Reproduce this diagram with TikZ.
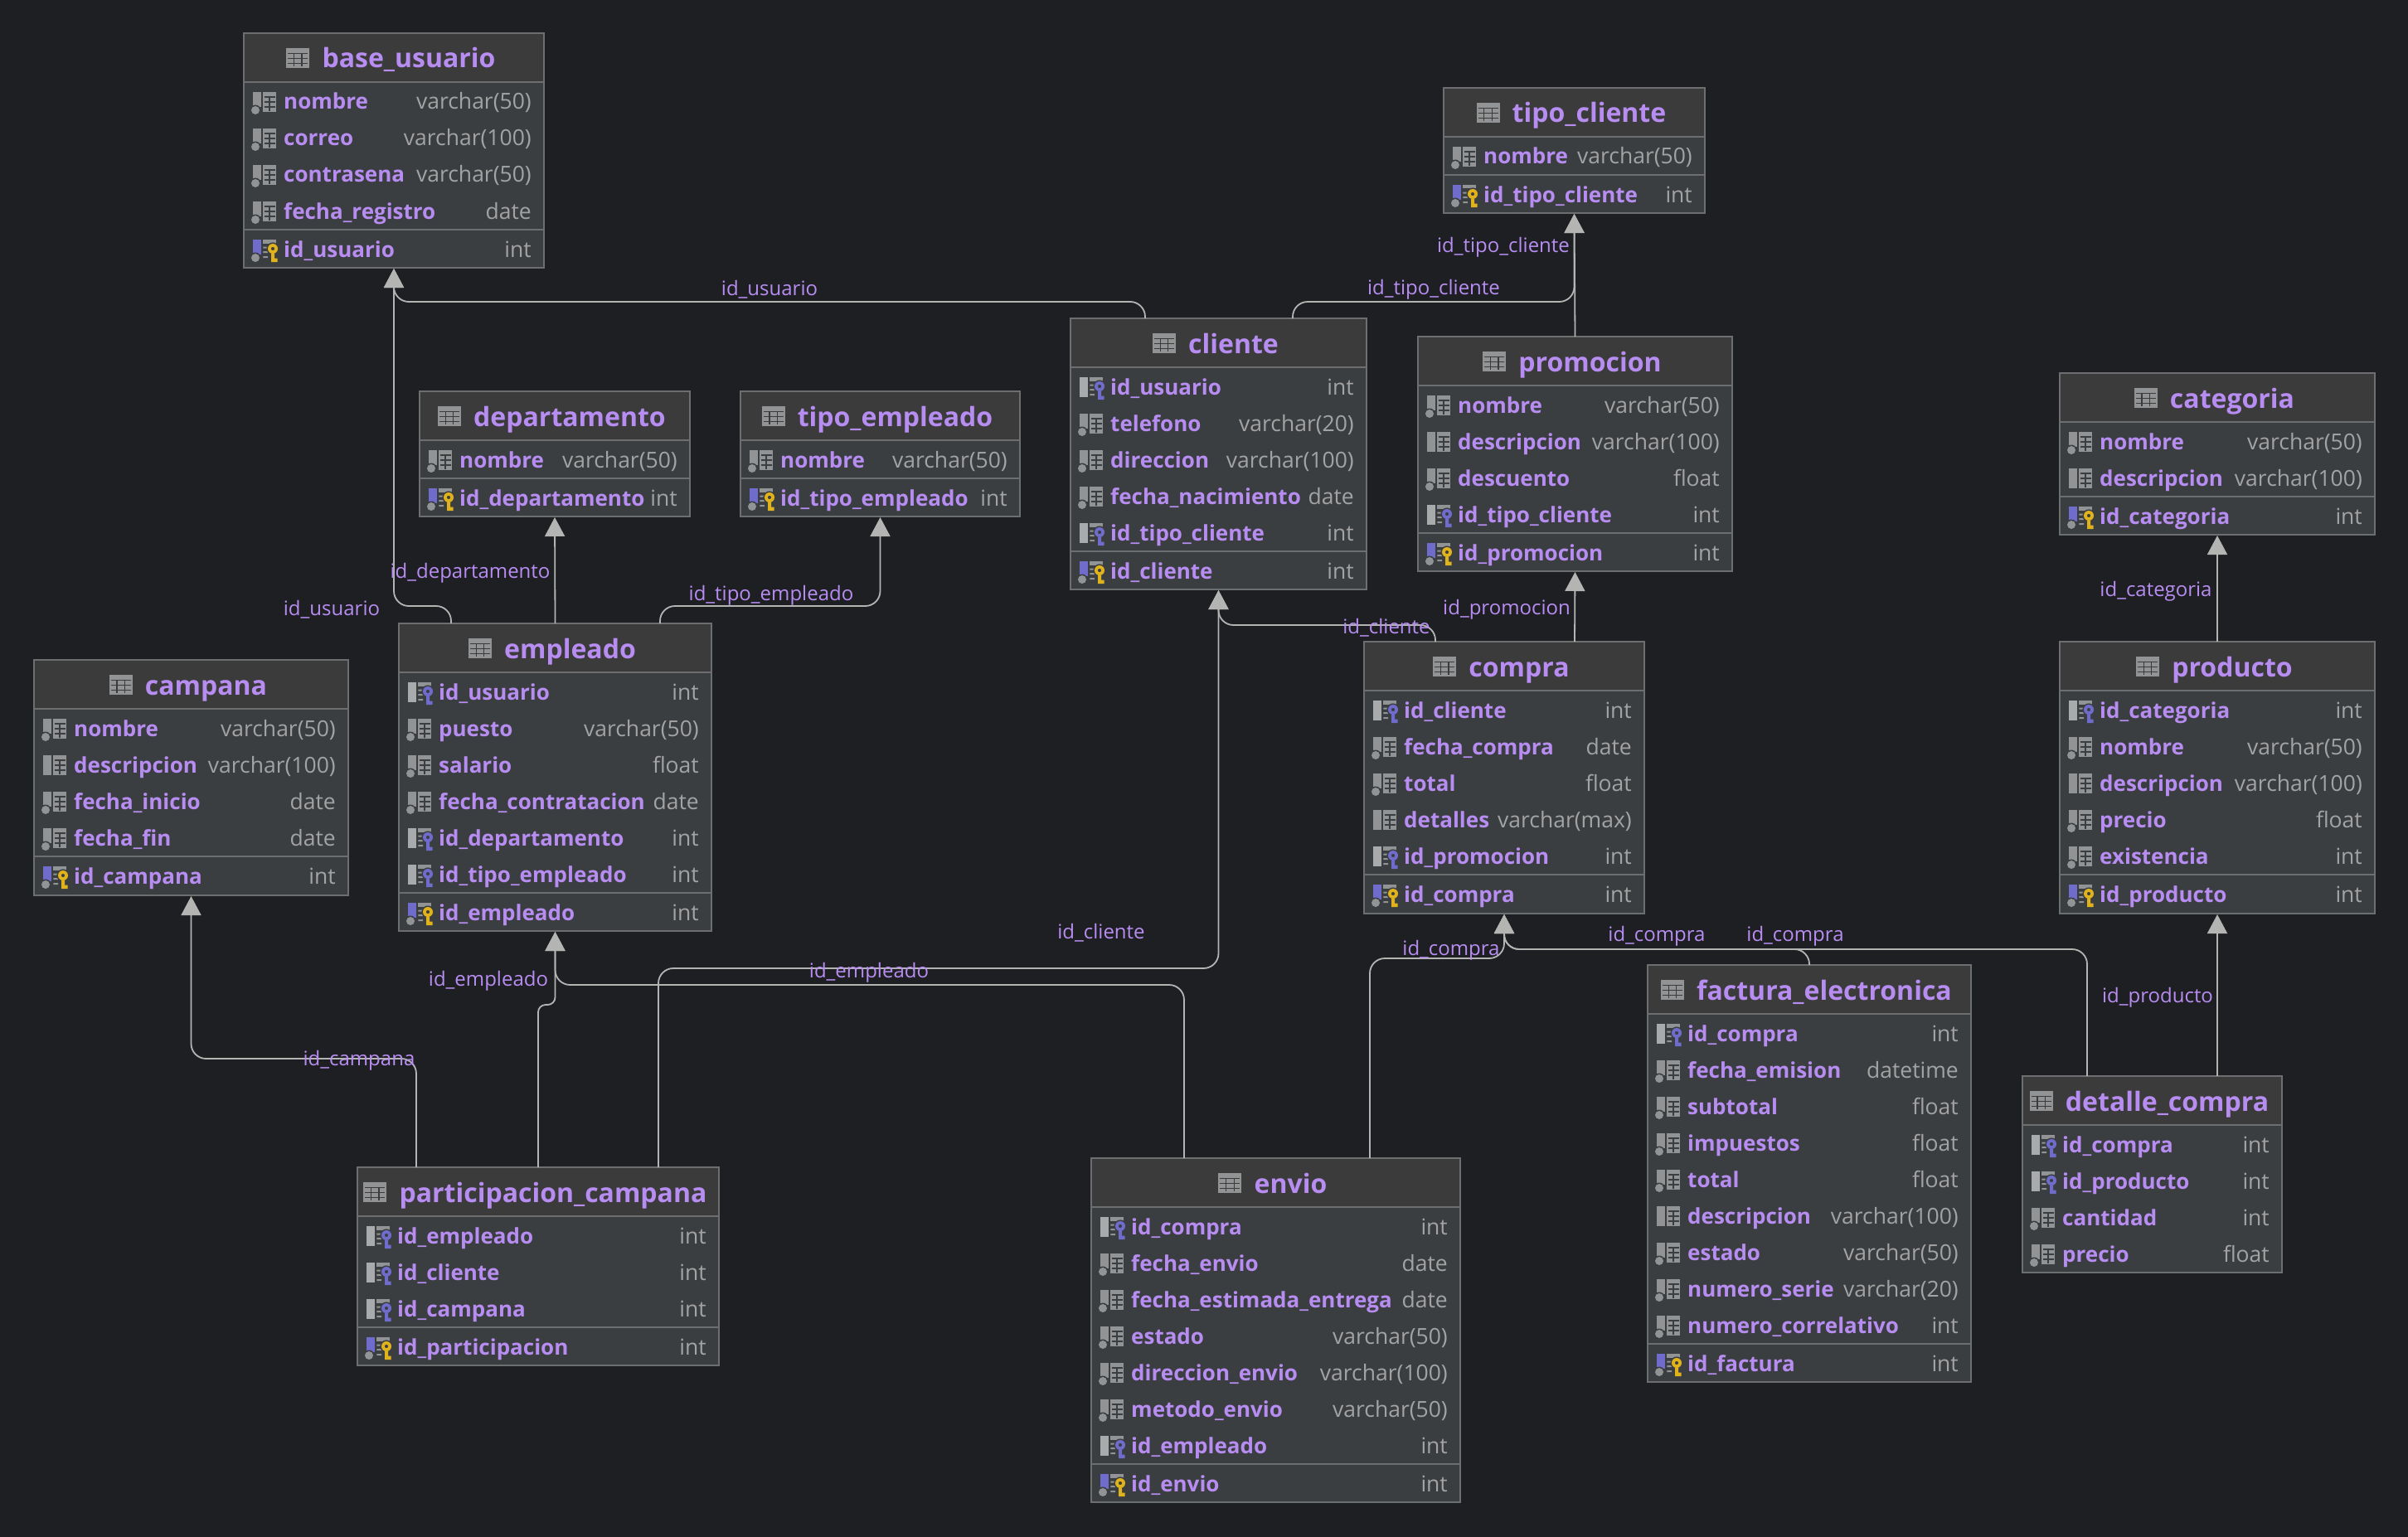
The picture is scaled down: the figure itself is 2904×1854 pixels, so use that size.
\documentclass[tikz,border=0pt]{standalone}
\usepackage{fontspec}
\usetikzlibrary{arrows.meta}
\setmainfont{Open Sans}
\definecolor{bgdark}{HTML}{1E1F22}
\definecolor{headfill}{HTML}{3B3B3B}
\definecolor{bodyfill}{HTML}{3B3E41}
\definecolor{frameline}{HTML}{6D6E6F}
\definecolor{namepurple}{HTML}{B88DF2}
\definecolor{typegrey}{HTML}{A3A3A3}
\definecolor{linkgrey}{HTML}{B4B5B3}
\definecolor{icongrey}{HTML}{929394}
\definecolor{fkgrey}{HTML}{A9AAAB}
\definecolor{keyblue}{HTML}{6F6CCB}
\definecolor{keygold}{HTML}{E0B31C}

\tikzset{
  dbframe/.style={draw=frameline, line width=2pt, fill=bodyfill, anchor=north west, inner sep=0pt, outer sep=0pt},
  tbltitle/.style={anchor=base, inner sep=0pt, text=namepurple, font=\fontsize{32}{36}\selectfont\bfseries},
  colname/.style={anchor=base west, inner sep=0pt, text=namepurple, font=\fontsize{26}{30}\selectfont\bfseries},
  coltype/.style={anchor=base east, inner sep=0pt, text=typegrey, font=\fontsize{26.5}{30}\selectfont},
  fklabel/.style={inner sep=0pt, yshift=-3pt, text=namepurple, font=\fontsize{24}{28}\selectfont},
  fklink/.style={draw=linkgrey, line width=1.8pt, rounded corners=18pt, shorten >=1pt, -{Triangle[length=23pt,width=24pt]}},
  pics/gridbase/.style={code={
    \fill[icongrey] (12.3,-12) rectangle (28,12);
    \draw[bodyfill, line width=1.2pt] (13.5,-6) -- (27,-6) (13.5,0) -- (27,0) (13.5,6) -- (27,6) (20,-6) -- (20,10.8);
  }},
  pics/gridkeyed/.style={code={
    \fill[icongrey] (12.3,-12) rectangle (28,-7.5);
    \fill[icongrey] (12.3,-3.5) rectangle (18,-1.5) (12.3,2) rectangle (18,4) (12.3,8) rectangle (18,10);
  }},
  pics/keyshape/.style={code={
    \fill[bodyfill] (24,-1) circle (7.6);
    \fill[#1, even odd rule] (24,-1) circle (6) (24,-1) circle (2.2);
    \fill[#1] (22,4.5) rectangle (26,15) (26,10.5) rectangle (29.5,15);
  }},
  pics/colnull/.style={code={
    \fill[icongrey] (0,-12) rectangle (10,6);
    \fill[bodyfill] (3,10) circle (6.5);
    \fill[icongrey] (3,10) circle (5);
    \pic {gridbase};
  }},
  pics/colreq/.style={code={
    \fill[icongrey] (0,-12) rectangle (10,12);
    \pic {gridbase};
  }},
  pics/colfk/.style={code={
    \fill[fkgrey] (0,-12) rectangle (10,12);
    \pic {gridkeyed};
    \pic {keyshape=keyblue};
  }},
  pics/colpk/.style={code={
    \fill[keyblue] (0,-12) rectangle (10,6);
    \fill[bodyfill] (3,10) circle (6.5);
    \fill[icongrey] (3,10) circle (5);
    \pic {gridkeyed};
    \pic {keyshape=keygold};
  }},
  pics/tableicon/.style={code={
    \fill[icongrey] (-43,-24) rectangle (-15,0);
    \draw[headfill, line width=1.3pt] (-41,-17.5) -- (-17,-17.5) (-41,-11.5) -- (-17,-11.5) (-41,-5.5) -- (-17,-5.5)
      (-33.7,-17.5) -- (-33.7,-2) (-24.3,-17.5) -- (-24.3,-2);
  }}
}

% name, left, top, width, height, rows
\newcommand{\dbtable}[6]{
  \node[dbframe, minimum width=#4, minimum height=#5] (#1) at (#2,#3) {};
  \fill[headfill] ([shift={(1pt,-1pt)}]#1.north west) rectangle ([shift={(-1pt,-59pt)}]#1.north east);
  \draw[frameline, line width=2pt] ([yshift=-59pt]#1.north west) -- ([yshift=-59pt]#1.north east);
  \node[tbltitle] (#1-title) at (#2+#4/2+18,#3+42) {\tblname{#1}};
  \pic at (#1-title.base west) {tableicon};
  \foreach \kind/\cname/\ctype [count=\i from 0] in {#6} {
    \ifnum\pdfstrcmp{\kind}{colpk}=0
      \draw[frameline, line width=2pt] (#2,#3+61+44*\i) -- (#2+#4,#3+61+44*\i);
      \def\rowy{#3+85+44*\i}
    \else
      \def\rowy{#3+83+44*\i}
    \fi
    \pic at (#2+11,\rowy) {\kind};
    \node[colname] (#1-c\i) at (#2+48,\rowy+9) {\cname};
    \node[coltype] (#1-t\i) at (#2+#4-15,\rowy+9) {\ctype};
  }
}
\newcommand{\tblname}[1]{\detokenize{#1}}

\begin{document}
\begin{tikzpicture}[x=1pt,y=-1pt]
\fill[bgdark] (0,0) rectangle (2904,1854);

\dbtable{base_usuario}{294}{40}{362}{283}{colnull/nombre/varchar(50), colnull/correo/varchar(100), colnull/contrasena/varchar(50), colnull/fecha\_registro/date, colpk/id\_usuario/int}
\dbtable{tipo_cliente}{1741}{106}{315}{151}{colnull/nombre/varchar(50), colpk/id\_tipo\_cliente/int}
\dbtable{departamento}{506}{472}{326}{151}{colnull/nombre/varchar(50), colpk/id\_departamento/int}
\dbtable{tipo_empleado}{893}{472}{337}{151}{colnull/nombre/varchar(50), colpk/id\_tipo\_empleado/int}
\dbtable{cliente}{1291}{384}{357}{327}{colfk/id\_usuario/int, colnull/telefono/varchar(20), colnull/direccion/varchar(100), colnull/fecha\_nacimiento/date, colfk/id\_tipo\_cliente/int, colpk/id\_cliente/int}
\dbtable{promocion}{1710}{406}{379}{283}{colnull/nombre/varchar(50), colreq/descripcion/varchar(100), colnull/descuento/float, colfk/id\_tipo\_cliente/int, colpk/id\_promocion/int}
\dbtable{categoria}{2484}{450}{380}{195}{colnull/nombre/varchar(50), colreq/descripcion/varchar(100), colpk/id\_categoria/int}
\dbtable{producto}{2484}{774}{380}{328}{colfk/id\_categoria/int, colnull/nombre/varchar(50), colreq/descripcion/varchar(100), colnull/precio/float, colnull/existencia/int, colpk/id\_producto/int}
\dbtable{compra}{1645}{774}{338}{328}{colfk/id\_cliente/int, colnull/fecha\_compra/date, colnull/total/float, colreq/detalles/varchar(max), colfk/id\_promocion/int, colpk/id\_compra/int}
\dbtable{empleado}{481}{752}{377}{371}{colfk/id\_usuario/int, colnull/puesto/varchar(50), colnull/salario/float, colnull/fecha\_contratacion/date, colfk/id\_departamento/int, colfk/id\_tipo\_empleado/int, colpk/id\_empleado/int}
\dbtable{campana}{41}{796}{379}{284}{colnull/nombre/varchar(50), colreq/descripcion/varchar(100), colnull/fecha\_inicio/date, colnull/fecha\_fin/date, colpk/id\_campana/int}
\dbtable{participacion_campana}{431}{1408}{436}{239}{colfk/id\_empleado/int, colfk/id\_cliente/int, colfk/id\_campana/int, colpk/id\_participacion/int}
\dbtable{envio}{1316}{1397}{445}{415}{colfk/id\_compra/int, colnull/fecha\_envio/date, colnull/fecha\_estimada\_entrega/date, colnull/estado/varchar(50), colnull/direccion\_envio/varchar(100), colnull/metodo\_envio/varchar(50), colfk/id\_empleado/int, colpk/id\_envio/int}
\dbtable{factura_electronica}{1987}{1164}{390}{503}{colfk/id\_compra/int, colnull/fecha\_emision/datetime, colnull/subtotal/float, colnull/impuestos/float, colnull/total/float, colreq/descripcion/varchar(100), colnull/estado/varchar(50), colnull/numero\_serie/varchar(20), colnull/numero\_correlativo/int, colpk/id\_factura/int}
\dbtable{detalle_compra}{2439}{1298}{313}{237}{colfk/id\_compra/int, colfk/id\_producto/int, colnull/cantidad/int, colnull/precio/float}

\draw[fklink] ([xshift=-88.5pt]cliente.north) -- ++(0,-20) -| (base_usuario.south);
\draw[fklink] ([xshift=-125.5pt]empleado.north) -- ++(0,-21) -| (base_usuario.south);
\draw[fklink] (empleado.north) -- (departamento.south);
\draw[fklink] ([xshift=126.5pt]empleado.north) -- ++(0,-21) -| (tipo_empleado.south);
\draw[fklink] ([xshift=89.5pt]cliente.north) -- ++(0,-20) -| (tipo_cliente.south);
\draw[fklink] (promocion.north) -- (tipo_cliente.south);
\draw[fklink] ([xshift=-83pt]compra.north) -- ++(0,-20) -| (cliente.south);
\draw[fklink] ([xshift=85pt]compra.north) -- (promocion.south);
\draw[fklink] (producto.north) -- (categoria.south);
\draw[fklink] ([xshift=145pt]participacion_campana.north) -- ++(0,-240) -| (cliente.south);
\draw[fklink, rounded corners=9pt] (participacion_campana.north) -- ++(0,-196) -| (empleado.south);
\draw[fklink] ([xshift=-110.5pt]envio.north) -- ++(0,-209) -| (empleado.south);
\draw[fklink] ([xshift=-147pt]participacion_campana.north) -- ++(0,-131) -| (campana.south);
\draw[fklink] ([xshift=113.5pt]envio.north) -- ++(0,-241) -| (compra.south);
\draw[fklink] (factura_electronica.north) -- ++(0,-19) -| (compra.south);
\draw[fklink] ([xshift=-78.5pt]detalle_compra.north) -- ++(0,-153) -| (compra.south);
\draw[fklink] ([xshift=78.5pt]detalle_compra.north) -- (producto.south);

\node[fklabel] (lbl-a) at (928,346) {id\_usuario};
\node[fklabel] (lbl-b) at (400,732) {id\_usuario};
\node[fklabel] (lbl-c) at (567,688) {id\_departamento};
\node[fklabel] (lbl-d) at (930,715) {id\_tipo\_empleado};
\node[fklabel] (lbl-e) at (1729,346) {id\_tipo\_cliente};
\node[fklabel] (lbl-f) at (1813,295) {id\_tipo\_cliente};
\node[fklabel] (lbl-g) at (1672,754) {id\_cliente};
\node[fklabel] (lbl-h) at (1817,732) {id\_promocion};
\node[fklabel] (lbl-i) at (2600,710) {id\_categoria};
\node[fklabel] (lbl-j) at (1328,1122) {id\_cliente};
\node[fklabel] (lbl-k) at (589,1180) {id\_empleado};
\node[fklabel] (lbl-l) at (1048,1170) {id\_empleado};
\node[fklabel] (lbl-m) at (433,1276) {id\_campana};
\node[fklabel] (lbl-n) at (1750,1143) {id\_compra};
\node[fklabel] (lbl-o) at (1998,1126) {id\_compra};
\node[fklabel] (lbl-p) at (2165,1126) {id\_compra};
\node[fklabel] (lbl-q) at (2602,1200) {id\_producto};
\end{tikzpicture}
\end{document}
